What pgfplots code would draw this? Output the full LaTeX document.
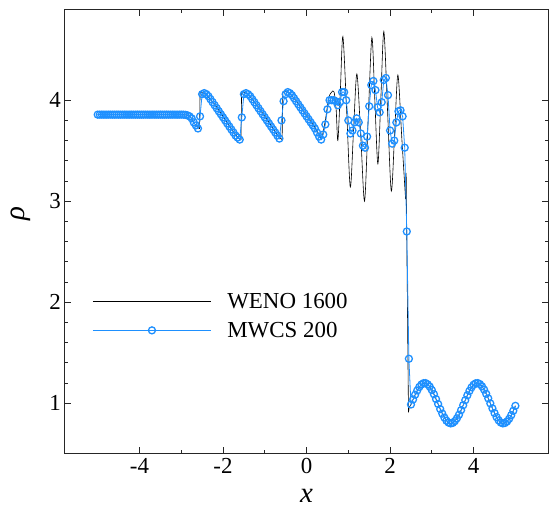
\documentclass[border=0pt]{standalone}
\usepackage{pgfplots}
\pgfplotsset{compat=1.18}
\usepackage{fontspec}
\setmainfont{Liberation Serif}
\definecolor{mwcs}{RGB}{30,144,255}
\begin{document}
\begin{tikzpicture}
\path[use as bounding box] (-64.3bp,-59bp) rectangle (486.7bp,453.7bp);
\begin{axis}[
  scale only axis,
  width=484.5bp, height=444.4bp,
  xmin=-5.8, xmax=5.8, ymin=0.5, ymax=4.9,
  xtick={-4,-2,0,2,4}, xticklabels={-4,-2,0,2,4},
  ytick={1,2,3,4}, yticklabels={1,2,3,4},
  minor x tick num=1, minor y tick num=4,
  tick align=inside, tick pos=both,
  major tick length=7bp, minor tick length=4bp,
  axis line style={black!85, line width=1.1bp},
  every tick/.style={black!85, line width=0.8bp},
  tick label style={font=\fontsize{23}{27}\selectfont},
  xticklabel style={yshift=-1bp},
  xlabel={\textit{x}}, ylabel={\textit{ρ}},
  label style={font=\fontsize{29}{33}\selectfont},
  xlabel style={yshift=-9bp},
  ylabel style={yshift=12bp, xshift=18bp},
  legend cell align=left,
  legend style={draw=none, fill=none, at={(axis cs:-5.2,2.13)}, anchor=north west,
    font=\fontsize{23}{27}\selectfont, row sep=8bp, column sep=14bp, nodes={inner sep=2bp}},
  legend image code/.code={\draw[mark repeat=2,mark phase=2,#1] plot coordinates {(0bp,0bp) (59bp,0bp) (118bp,0bp)};},
]
% WENO 1600, part A
\addplot[black, line width=0.6bp] coordinates {
(-5.00,3.857) (-2.95,3.857) (-2.90,3.855) (-2.85,3.85) (-2.80,3.84) (-2.75,3.82)
(-2.70,3.78) (-2.65,3.75) (-2.60,3.73) (-2.56,3.72) (-2.55,4.08) (-2.50,4.075)
(-2.45,4.065) (-2.40,4.05) (-2.20,3.96) (-2.00,3.84) (-1.80,3.72) (-1.70,3.66)
(-1.62,3.62) (-1.57,3.61) (-1.555,4.08) (-1.50,4.08) (-1.45,4.07) (-1.40,4.055)
(-1.20,3.96) (-1.00,3.84) (-0.80,3.72) (-0.70,3.66) (-0.62,3.62) (-0.585,3.61)
(-0.57,4.08) (-0.50,4.085) (-0.45,4.08) (-0.40,4.065) (-0.20,3.97) (0.00,3.85)
(0.20,3.73) (0.30,3.66) (0.36,3.61)
};
\addlegendentry{WENO 1600}
% WENO 1600, part B (high-frequency region)
\addplot[black, line width=0.6bp, smooth, forget plot] coordinates {
(0.36,3.61) (0.45,3.80) (0.53,4.02) (0.60,4.08) (0.66,4.08) (0.71,3.90) (0.75,3.60)
(0.81,4.10) (0.87,4.63) (0.96,3.90) (1.047,3.14) (1.125,3.70) (1.205,4.26)
(1.30,3.63) (1.389,3.00) (1.475,3.81) (1.564,4.62) (1.635,4.00) (1.708,3.37)
(1.78,4.03) (1.851,4.68) (1.94,3.89) (2.029,3.10) (2.11,3.68) (2.187,4.25)
(2.28,3.63) (2.371,3.02)
};
% WENO 1600, part C (shock and right state)
\addplot[black, line width=0.6bp, forget plot] coordinates {
(2.371,3.02) (2.385,3.28) (2.39,3.05) (2.44,0.91) (2.46,0.96) (2.50,0.987)
(2.55,1.037) (2.60,1.084) (2.65,1.126) (2.70,1.161) (2.75,1.185) (2.80,1.198)
(2.85,1.199) (2.90,1.187) (2.95,1.164) (3.00,1.130) (3.05,1.089) (3.10,1.041)
(3.15,0.992) (3.20,0.942) (3.25,0.897) (3.30,0.858) (3.35,0.827) (3.40,0.808)
(3.45,0.800) (3.50,0.805) (3.55,0.822) (3.60,0.850) (3.65,0.886) (3.70,0.931)
(3.75,0.980) (3.80,1.030) (3.85,1.078) (3.90,1.121) (3.95,1.157) (4.00,1.183)
(4.05,1.197) (4.10,1.199) (4.15,1.189) (4.20,1.167) (4.25,1.135) (4.30,1.094)
(4.35,1.048) (4.40,0.998) (4.45,0.949) (4.50,0.903) (4.55,0.862) (4.60,0.830)
(4.65,0.809) (4.70,0.800) (4.75,0.804) (4.80,0.819) (4.85,0.845) (4.90,0.881)
(4.95,0.925) (5.00,0.974)
};
% MWCS 200
\addplot[mwcs, line width=0.8bp, mark=o, mark size=3.5bp, mark options={line width=1.3bp, solid}] coordinates {
(-5.00,3.857) (-4.95,3.857) (-4.90,3.857) (-4.85,3.857) (-4.80,3.857) (-4.75,3.857)
(-4.70,3.857) (-4.65,3.857) (-4.60,3.857) (-4.55,3.857) (-4.50,3.857) (-4.45,3.857)
(-4.40,3.857) (-4.35,3.857) (-4.30,3.857) (-4.25,3.857) (-4.20,3.857) (-4.15,3.857)
(-4.10,3.857) (-4.05,3.857) (-4.00,3.857) (-3.95,3.857) (-3.90,3.857) (-3.85,3.857)
(-3.80,3.857) (-3.75,3.857) (-3.70,3.857) (-3.65,3.857) (-3.60,3.857) (-3.55,3.857)
(-3.50,3.857) (-3.45,3.857) (-3.40,3.857) (-3.35,3.857) (-3.30,3.857) (-3.25,3.857)
(-3.20,3.857) (-3.15,3.857) (-3.10,3.857) (-3.05,3.857) (-3.00,3.857) (-2.95,3.857)
(-2.90,3.855) (-2.85,3.85) (-2.80,3.84) (-2.75,3.82) (-2.70,3.78) (-2.65,3.75)
(-2.60,3.72) (-2.55,3.84) (-2.50,4.06) (-2.45,4.07) (-2.40,4.06) (-2.35,4.04)
(-2.30,4.01) (-2.25,3.98) (-2.20,3.95) (-2.15,3.92) (-2.10,3.89) (-2.05,3.86)
(-2.00,3.83) (-1.95,3.80) (-1.90,3.77) (-1.85,3.74) (-1.80,3.71) (-1.75,3.68)
(-1.70,3.65) (-1.65,3.63) (-1.60,3.61) (-1.55,3.83) (-1.50,4.06) (-1.45,4.07)
(-1.40,4.06) (-1.35,4.04) (-1.30,4.01) (-1.25,3.98) (-1.20,3.95) (-1.15,3.92)
(-1.10,3.89) (-1.05,3.86) (-1.00,3.83) (-0.95,3.80) (-0.90,3.77) (-0.85,3.74)
(-0.80,3.71) (-0.75,3.68) (-0.70,3.65) (-0.65,3.62) (-0.60,3.80) (-0.55,3.99)
(-0.50,4.06) (-0.45,4.08) (-0.40,4.07) (-0.35,4.05) (-0.30,4.02) (-0.25,3.99)
(-0.20,3.96) (-0.15,3.93) (-0.10,3.90) (-0.05,3.87) (0.00,3.84) (0.05,3.81)
(0.10,3.78) (0.15,3.75) (0.20,3.72) (0.25,3.68) (0.30,3.64) (0.35,3.61)
(0.40,3.66) (0.45,3.76) (0.50,3.91) (0.55,4.00) (0.60,4.00) (0.65,4.00)
(0.70,3.99) (0.75,3.95) (0.80,3.98) (0.85,4.08) (0.90,4.08) (0.95,4.00)
(1.00,3.80) (1.05,3.67) (1.10,3.70) (1.15,3.78) (1.20,3.82) (1.25,3.78)
(1.30,3.67) (1.35,3.55) (1.40,3.53) (1.45,3.64) (1.50,3.94) (1.55,4.15)
(1.60,4.19) (1.65,4.10) (1.70,3.93) (1.75,3.88) (1.80,3.98) (1.85,4.20)
(1.90,4.22) (1.95,4.05) (2.00,3.70) (2.05,3.57) (2.10,3.60) (2.15,3.78)
(2.20,3.89) (2.25,3.90) (2.30,3.84) (2.35,3.53) (2.40,2.70) (2.45,1.44)
(2.50,0.987) (2.55,1.037) (2.60,1.084) (2.65,1.126) (2.70,1.161) (2.75,1.185)
(2.80,1.198) (2.85,1.199) (2.90,1.187) (2.95,1.164) (3.00,1.130) (3.05,1.089)
(3.10,1.041) (3.15,0.992) (3.20,0.942) (3.25,0.897) (3.30,0.858) (3.35,0.827)
(3.40,0.808) (3.45,0.800) (3.50,0.805) (3.55,0.822) (3.60,0.850) (3.65,0.886)
(3.70,0.931) (3.75,0.980) (3.80,1.030) (3.85,1.078) (3.90,1.121) (3.95,1.157)
(4.00,1.183) (4.05,1.197) (4.10,1.199) (4.15,1.189) (4.20,1.167) (4.25,1.135)
(4.30,1.094) (4.35,1.048) (4.40,0.998) (4.45,0.949) (4.50,0.903) (4.55,0.862)
(4.60,0.830) (4.65,0.809) (4.70,0.800) (4.75,0.804) (4.80,0.819) (4.85,0.845)
(4.90,0.881) (4.95,0.925) (5.00,0.974)
};
\addlegendentry{MWCS 200}
\end{axis}
\end{tikzpicture}
\end{document}
